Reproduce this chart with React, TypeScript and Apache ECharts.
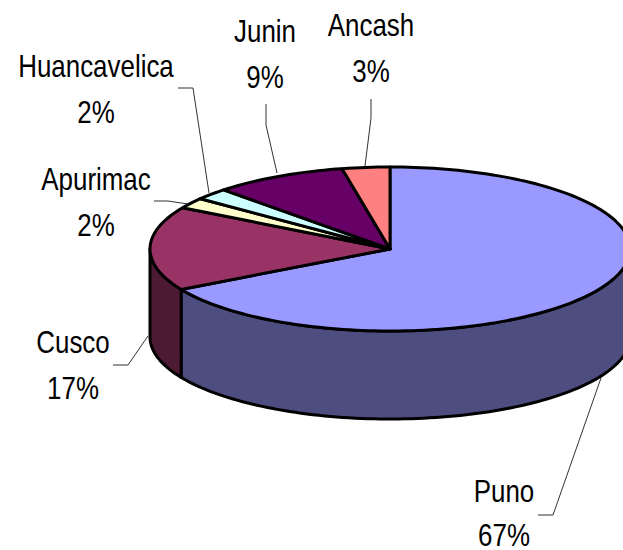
import React, { useEffect, useRef } from "react";
import * as echarts from "echarts";

const categories = ["Puno", "Cusco", "Apurimac", "Huancavelica", "Junin", "Ancash"];
const percentages = [66.8, 16.6, 2.1, 2.3, 9.0, 3.2];
const topColors = ["#9999FF", "#993366", "#FFFFCC", "#CCFFFF", "#660066", "#FF8080"];
const sideColors = ["#4D4D80", "#4D1A33", "#808066", "#668080", "#330033", "#804040"];

const CX = 390, CY = 249, RX = 240, RY = 82, DEPTH = 88;

const total = percentages.reduce((a, b) => a + b, 0);
const bounds: number[] = [0];
percentages.forEach((v, i) => bounds.push(bounds[i] + (v / total) * Math.PI * 2));

const pt = (t: number, dy = 0): number[] => [CX + RX * Math.sin(t), CY - RY * Math.cos(t) + dy];

function arc(a: number, b: number, dy = 0): number[][] {
  const n = Math.max(2, Math.ceil(((b - a) / (Math.PI * 2)) * 240));
  const out: number[][] = [];
  for (let i = 0; i <= n; i++) out.push(pt(a + ((b - a) * i) / n, dy));
  return out;
}

const edge = { stroke: "#000", lineWidth: 3, lineJoin: "round" as const };

const renderTop = (params: any) => {
  const i = params.dataIndex;
  return {
    type: "polygon",
    shape: { points: [[CX, CY], ...arc(bounds[i], bounds[i + 1])] },
    style: { fill: topColors[i], ...edge },
  };
};

const renderSide = (params: any) => {
  const i = params.dataIndex;
  const a = Math.max(bounds[i], Math.PI / 2);
  const b = Math.min(bounds[i + 1], (Math.PI * 3) / 2);
  if (b <= a) return { type: "group", children: [] };
  return {
    type: "polygon",
    shape: { points: [...arc(a, b), ...arc(a, b, DEPTH).reverse()] },
    style: { fill: sideColors[i], ...edge },
  };
};

const labelLayout = [
  { x: 504, y1: 491, y2: 535, line: [[538, 515], [553, 515], [601, 378]] },
  { x: 73, y1: 342, y2: 388, line: [[113, 365], [128, 365], [148, 336]] },
  { x: 96, y1: 179, y2: 225, line: [[154, 201], [168, 201], [188, 204]] },
  { x: 96, y1: 66, y2: 112, line: [[178, 88], [193, 88], [209, 193]] },
  { x: 265, y1: 31, y2: 77, line: [[266, 104], [266, 125], [277, 173]] },
  { x: 371, y1: 25, y2: 71, line: [[371, 99], [371, 118], [365, 166]] },
];

const textEl = (text: string, x: number, y: number) => ({
  type: "text",
  z: 10,
  x,
  y,
  scaleX: 0.81,
  style: {
    text,
    fill: "#000",
    font: '32px "Liberation Sans", sans-serif',
    lineHeight: 28,
    align: "center",
    verticalAlign: "middle",
  },
});

const graphics: any[] = [];
categories.forEach((name, i) => {
  const l = labelLayout[i];
  graphics.push({
    type: "polyline",
    z: 10,
    shape: { points: l.line },
    style: { stroke: "#333", lineWidth: 1, fill: "none" },
  });
  graphics.push(textEl(name, l.x, l.y1));
  graphics.push(textEl(`${Math.round(percentages[i])}%`, l.x, l.y2));
});

export default function App() {
  const ref = useRef<HTMLDivElement>(null);
  useEffect(() => {
    document.body.style.margin = "0";
    const chart = echarts.init(ref.current!, undefined, { renderer: "svg" });
    const data = categories.map((name, i) => ({ name, value: percentages[i] }));
    chart.setOption({
      animation: false,
      backgroundColor: "#fff",
      graphic: graphics,
      series: [
        { type: "custom", coordinateSystem: "none", renderItem: renderSide, data, z: 1, silent: true },
        { type: "custom", coordinateSystem: "none", renderItem: renderTop, data, z: 2, silent: true },
      ],
    });
    return () => chart.dispose();
  }, []);
  return <div ref={ref} style={{ width: 623, height: 550 }} />;
}
